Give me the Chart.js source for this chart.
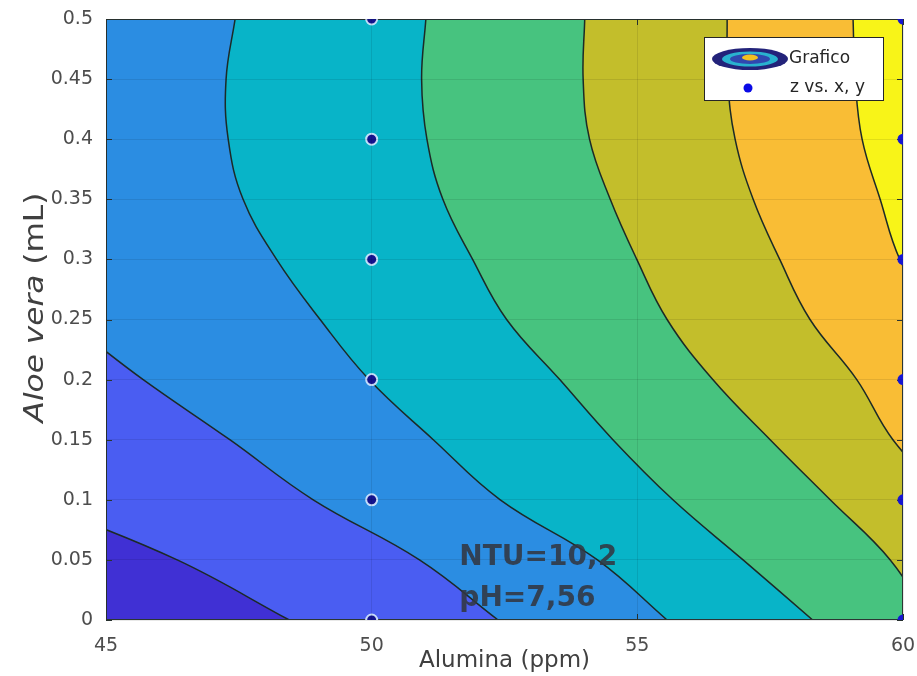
<!DOCTYPE html>
<html>
<head>
<meta charset="utf-8">
<script src="https://cdn.jsdelivr.net/npm/chart.js@4.4.0/dist/chart.umd.min.js"></script>
<style>
  body { margin: 0; background: #fff; }
  #wrap { width: 917px; height: 676px; }
</style>
</head>
<body>
<div id="wrap"><canvas id="contourChart"></canvas></div>
<script>
// Aloe vera (mL) levels where every contour line is sampled
const aloeLevels = [0, 0.05, 0.1, 0.15, 0.2, 0.25, 0.3, 0.35, 0.4, 0.45, 0.5];

// alumina (ppm) of each contour line at those levels, left to right.
// values below 45 or above 60 just carry the line on outside the plot
const contourBase = [40, 40, 40, 40, 40, 40, 40, 40, 40, 40, 40];
const contour1 = [48.45, 46.34, 43.6, 41, 40, 40, 40, 40, 40, 40, 40];
const contour2 = [52.38, 50.9, 48.9, 47.33, 45.7, 44.2, 42.5, 41, 40, 40, 40];
const contour3 = [55.56, 54.25, 52.42, 51.16, 49.95, 49.03, 48.21, 47.58, 47.3, 47.26, 47.43];
const contour4 = [58.3, 56.99, 55.67, 54.54, 53.54, 52.54, 51.9, 51.34, 51.04, 50.94, 51.02];
const contour5 = [60.5, 59.76, 58.63, 57.5, 56.42, 55.56, 54.99, 54.49, 54.1, 53.98, 54.01];
const contour6 = [63, 62, 60.85, 59.81, 59.13, 58.25, 57.68, 57.18, 56.84, 56.7, 56.69];
const contour7 = [64, 63, 62.5, 62, 61.3, 60.6, 59.94, 59.57, 59.23, 59.1, 59.06];

const levelColors = ['#4030d4', '#4a5df2', '#2b8de2', '#08b4c8', '#47c37f', '#c3be2b', '#f9bd35', '#f8f418'];

// measured samples (z vs. x, y)
const sampleAlumina = [50, 50, 50, 50, 50, 50, 60, 60, 60, 60, 60, 60];
const sampleAloe = [0, 0.1, 0.2, 0.3, 0.4, 0.5, 0, 0.1, 0.2, 0.3, 0.4, 0.5];

const xTicks = [45, 50, 55, 60];
const yTicks = [0, 0.05, 0.1, 0.15, 0.2, 0.25, 0.3, 0.35, 0.4, 0.45, 0.5];

const noteLines = ['NTU=10,2', 'pH=7,56'];
const noteAt = { x: 51.65, y: [0.0516, 0.018] };

const FONT = '"DejaVu Sans", Arial, sans-serif';

const contours = [contourBase, contour1, contour2, contour3, contour4, contour5, contour6, contour7];

const datasets = contours.map((xs, i) => ({
    label: 'Grafico',
    data: aloeLevels.map((y, j) => ({ x: xs[j], y: y })),
    backgroundColor: levelColors[i],
    borderColor: '#1c2a27',
    borderWidth: i === 0 ? 0 : 1.5,
    fill: { target: { value: 60 } },
    pointRadius: 0,
    pointHoverRadius: 0,
    tension: 0.4,
    clip: 0,
    order: 20 - i
}));

const onEdge = c => c.raw && c.raw.x === 60;
datasets.push({
    label: 'z vs. x, y',
    data: sampleAlumina.map((x, i) => ({ x: x, y: sampleAloe[i] })),
    showLine: false,
    fill: false,
    pointRadius: 5.5,
    pointHoverRadius: 5.5,
    pointBackgroundColor: c => (onEdge(c) ? '#1616d2' : '#14148e'),
    pointBorderColor: 'rgba(215,235,255,0.9)',
    pointBorderWidth: c => (onEdge(c) ? 0 : 2),
    order: 0
});
const pointsIndex = datasets.length - 1;

// box round the plot + inward tick marks (matlab style)
const framePlugin = {
    id: 'frame',
    beforeDatasetDraw(chart, args) {
        if (args.index !== pointsIndex) return;
        const { ctx, chartArea: a, scales } = chart;
        ctx.save();
        ctx.strokeStyle = '#2b3533';
        ctx.lineWidth = 1;
        ctx.strokeRect(a.left + 0.5, a.top + 0.5, a.right - a.left - 1, a.bottom - a.top - 1);
        ctx.beginPath();
        yTicks.forEach(v => {
            const py = Math.round(scales.y.getPixelForValue(v)) + 0.5;
            ctx.moveTo(a.left, py); ctx.lineTo(a.left + 6, py);
            ctx.moveTo(a.right, py); ctx.lineTo(a.right - 6, py);
        });
        xTicks.forEach(v => {
            const px = Math.round(scales.x.getPixelForValue(v)) + 0.5;
            ctx.moveTo(px, a.bottom); ctx.lineTo(px, a.bottom - 6);
            ctx.moveTo(px, a.top); ctx.lineTo(px, a.top + 6);
        });
        ctx.stroke();
        ctx.restore();
    }
};

// y title with "Aloe vera" in italics, legend box, NTU/pH note
const textPlugin = {
    id: 'texts',
    afterDraw(chart) {
        const { ctx, chartArea: a, scales } = chart;

        ctx.save();
        ctx.translate(36, (a.top + a.bottom) / 2 - 12);
        ctx.rotate(-Math.PI / 2);
        ctx.scale(1.2, 1);
        ctx.fillStyle = '#404040';
        ctx.textBaseline = 'middle';
        ctx.textAlign = 'left';
        const italic = 'italic 26px ' + FONT;
        const plain = '26px ' + FONT;
        ctx.font = italic;
        const w1 = ctx.measureText('Aloe vera').width;
        ctx.font = plain;
        const w2 = ctx.measureText(' (mL)').width;
        const x0 = -(w1 + w2) / 2;
        ctx.font = italic;
        ctx.fillText('Aloe vera', x0, 0);
        ctx.font = plain;
        ctx.fillText(' (mL)', x0 + w1, 0);
        ctx.restore();

        // note
        ctx.save();
        ctx.font = 'bold 28px ' + FONT;
        ctx.fillStyle = 'rgba(50,55,65,0.88)';
        ctx.textBaseline = 'middle';
        ctx.textAlign = 'left';
        const nx = scales.x.getPixelForValue(noteAt.x);
        noteLines.forEach((t, i) => {
            ctx.fillText(t, nx, scales.y.getPixelForValue(noteAt.y[i]));
        });
        ctx.restore();

        // legend
        const bx = a.right - 199, by = a.top + 18, bw = 179, bh = 63;
        ctx.save();
        ctx.fillStyle = '#fff';
        ctx.fillRect(bx, by, bw, bh);
        ctx.strokeStyle = '#262626';
        ctx.lineWidth = 1;
        ctx.strokeRect(bx + 0.5, by + 0.5, bw, bh);
        const cx = bx + 46, cy1 = by + 22, cy2 = by + 51;
        const rings = [[38, 11, '#23237a'], [28, 7.5, '#29b2cf'], [20, 5, '#3048b0'], [8, 3, '#f0c020']];
        rings.forEach(([rx, ry, c], k) => {
            ctx.beginPath();
            ctx.ellipse(cx, cy1 - (k === 3 ? 1.5 : 0), rx, ry, 0, 0, Math.PI * 2);
            ctx.fillStyle = c;
            ctx.fill();
        });
        ctx.beginPath();
        ctx.arc(bx + 44, cy2, 4.5, 0, Math.PI * 2);
        ctx.fillStyle = '#0a0ae6';
        ctx.fill();
        ctx.fillStyle = '#262626';
        ctx.font = '17px ' + FONT;
        ctx.textBaseline = 'middle';
        ctx.fillText('Grafico', bx + 85, cy1);
        ctx.fillText('z vs. x, y', bx + 86, cy2);
        ctx.restore();
    }
};

new Chart(document.getElementById('contourChart'), {
    type: 'line',
    data: { datasets: datasets },
    options: {
        indexAxis: 'y',
        responsive: true,
        maintainAspectRatio: false,
        animation: false,
        layout: { padding: { top: 19, right: 14, left: 0, bottom: 0 } },
        elements: { line: { capBezierPoints: false } },
        plugins: {
            legend: { display: false },
            tooltip: { enabled: false }
        },
        scales: {
            x: {
                type: 'linear',
                min: 45,
                max: 60,
                afterBuildTicks: s => { s.ticks = xTicks.map(v => ({ value: v })); },
                afterFit: s => { s.height = 56; s.paddingLeft = 0; s.paddingRight = 0; },
                grid: { color: 'rgba(0,0,0,0.09)', z: 1, drawTicks: false },
                border: { display: false },
                ticks: {
                    color: '#4d4d4d',
                    font: { family: FONT, size: 19 },
                    padding: 15,
                    maxRotation: 0,
                    callback: v => String(v)
                },
                title: {
                    display: true,
                    text: 'Alumina (ppm)',
                    color: '#404040',
                    font: { family: FONT, size: 23 },
                    padding: { top: 0, bottom: 1 }
                }
            },
            y: {
                type: 'linear',
                min: 0,
                max: 0.5,
                afterBuildTicks: s => { s.ticks = yTicks.map(v => ({ value: v })); },
                afterFit: s => { s.width = 106; s.paddingTop = 0; s.paddingBottom = 0; },
                grid: { color: 'rgba(0,0,0,0.09)', z: 1, drawTicks: false },
                border: { display: false },
                ticks: {
                    color: '#4d4d4d',
                    font: { family: FONT, size: 19 },
                    padding: 13,
                    callback: v => String(v)
                }
            }
        }
    },
    plugins: [framePlugin, textPlugin]
});
</script>
</body>
</html>
